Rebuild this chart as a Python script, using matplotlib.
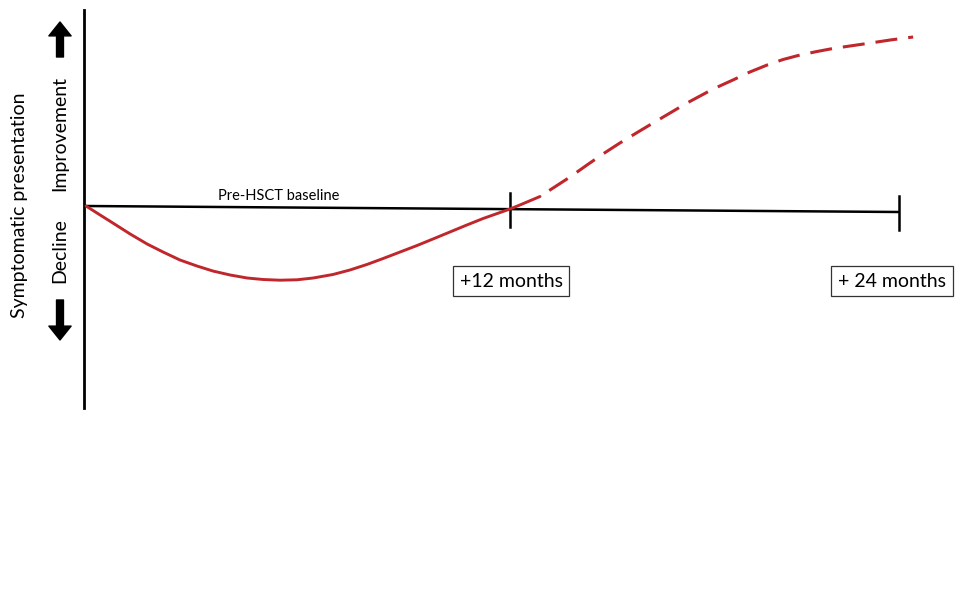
import matplotlib.pyplot as plt
import numpy as np

plt.rcParams['font.family'] = ['Lato', 'DejaVu Sans']

# Schematic symptom trajectory (months after HSCT vs. level relative to baseline)
solid_months = [0, 0.40, 0.76, 1.25, 1.73, 2.18, 2.66, 3.14, 3.59, 4.08, 4.56, 5.01,
                5.49, 5.97, 6.43, 6.99, 7.47, 7.95, 8.41, 8.89, 9.37, 9.82, 10.30,
                10.78, 11.24, 11.72, 12.0, 12.28, 12.65, 12.85]
solid_level = [0, -0.9, -1.7, -2.8, -3.8, -4.6, -5.4, -6.0, -6.5, -6.9, -7.2, -7.35,
               -7.42, -7.38, -7.2, -6.85, -6.4, -5.85, -5.25, -4.6, -3.95, -3.3, -2.6,
               -1.9, -1.25, -0.65, -0.3, 0.1, 0.65, 0.95]

dashed_months = [12.85, 13.22, 13.70, 14.18, 14.63, 15.11, 15.60, 16.05, 16.53, 17.01,
                 17.38, 17.75, 18.31, 18.79, 19.28, 19.73, 20.21, 20.69, 21.14, 21.62,
                 22.11, 22.76, 23.41]
dashed_level = [0.95, 1.8, 2.9, 4.1, 5.2, 6.3, 7.35, 8.3, 9.3, 10.3,
                11.0, 11.7, 12.6, 13.4, 14.1, 14.65, 15.1, 15.45, 15.75, 16.0,
                16.25, 16.6, 16.9]

baseline_months = [0, 23]
baseline_level = [0, -0.6]

tick_months = [12, 23]
tick_labels = ['+12 months', '+ 24 months']
label_months = [12.03, 22.81]

red = '#c0272d'

fig = plt.figure(figsize=(9.6, 5.94), dpi=100)
ax = fig.add_axes([0, 0, 1, 1])
ax.set_xlim(-2.434, 24.737)
ax.set_ylim(-38.8, 20.6)
ax.axis('off')

# Vertical axis
ax.plot([-0.057, -0.057], [-20.2, 19.6], color='black', lw=2)

# Baseline with tick marks
ax.plot(baseline_months, baseline_level, color='black', lw=1.8)
for m in tick_months:
    lv = np.interp(m, baseline_months, baseline_level)
    ax.plot([m, m], [lv + 1.6, lv - 1.8], color='black', lw=1.8)
ax.text(5.46, 1.0, 'Pre-HSCT baseline', fontsize=10.5, ha='center', va='center')

# Trajectory
ax.plot(solid_months, solid_level, color=red, lw=2.1, solid_capstyle='round')
ax.plot(dashed_months, dashed_level, color=red, lw=2.2,
        linestyle=(7.2, (7.2, 3.6)))

# Month boxes
for m, lab in zip(label_months, tick_labels):
    ax.text(m, -7.5, lab, fontsize=14, ha='center', va='center',
            bbox=dict(boxstyle='square,pad=0.35', facecolor='white',
                      edgecolor='#333333', linewidth=0.9))

# Y-axis labels
ax.text(-1.868, 0.1, 'Symptomatic presentation', fontsize=14, rotation=90,
        ha='center', va='center')
ax.text(-0.736, 7.3, 'Improvement', fontsize=14, rotation=90,
        ha='center', va='center')
ax.text(-0.736, -4.5, 'Decline', fontsize=14, rotation=90,
        ha='center', va='center')

arrow = dict(facecolor='black', edgecolor='black', width=5, headwidth=16, headlength=10)
ax.annotate('', xy=(-0.736, 18.4), xytext=(-0.736, 14.9), arrowprops=arrow)
ax.annotate('', xy=(-0.736, -13.4), xytext=(-0.736, -9.4), arrowprops=arrow)

fig.savefig('out.png', dpi=100)
